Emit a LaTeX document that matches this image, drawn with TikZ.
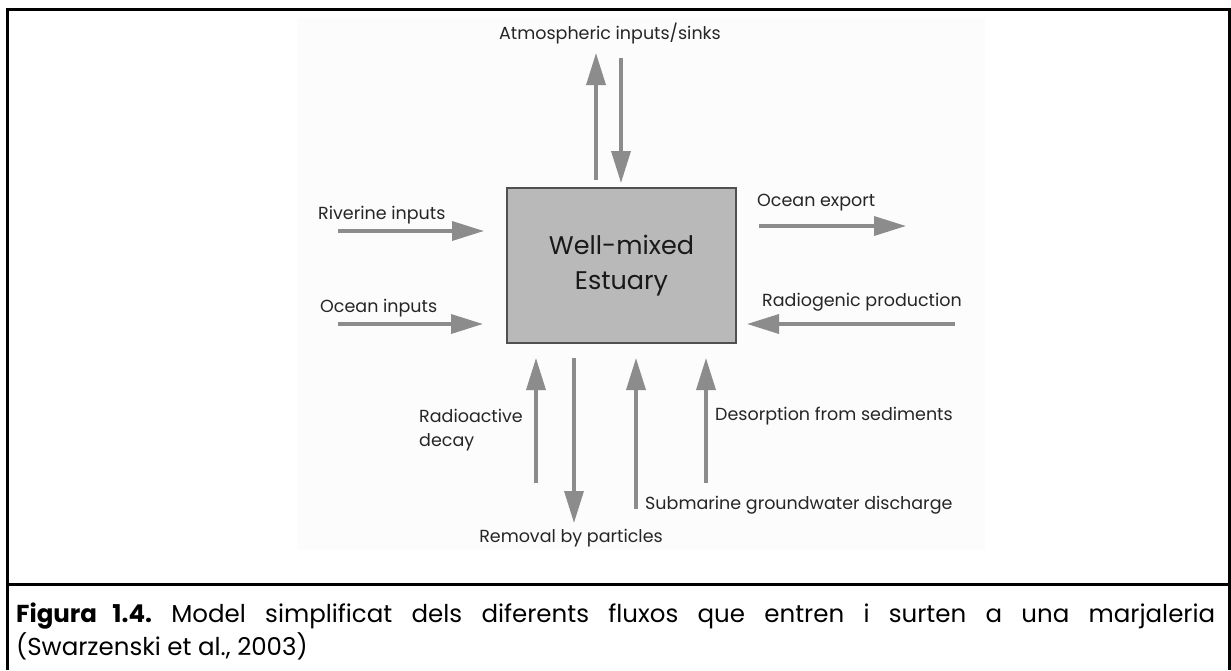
\documentclass[tikz,border=0pt]{standalone}
\usepackage{fontspec}
\setmainfont{Poppins}
\frenchspacing
\usetikzlibrary{arrows.meta,calc}
\definecolor{arrowgray}{HTML}{8C8C8C}
\definecolor{boxgray}{HTML}{B9B9B9}
\definecolor{boxedge}{HTML}{505050}
\definecolor{bgfill}{HTML}{FCFCFC}
\tikzset{
  flow/.style={draw=arrowgray, line width=3.5pt, -{Triangle[length=32pt,width=19pt]}},
  lbl/.style={inner sep=0pt, font=\fontsize{17.5}{24}\selectfont, text=black!85},
  estuarybox/.style={draw=boxedge, line width=1.5pt, fill=boxgray, minimum width=229pt, minimum height=155pt, align=center, font=\fontsize{25.5}{35}\selectfont, text=black!90},
  frameline/.style={line width=3pt, draw=black}
}
\begin{document}
\begin{tikzpicture}[x=1pt,y=-1pt]
\useasboundingbox (0,0) rectangle (1231,670);
\fill[bgfill] (297,18) rectangle (985,550);
\draw[frameline] (7,670) -- (7,9) -- (1229,9) -- (1229,670);
\draw[frameline] (7,584) -- (1229,584);

\node[estuarybox] (E) at (621.5,265.5) {Well-mixed\\Estuary};

% coordinates
\coordinate (atU0) at (596,180); \coordinate (atU1) at (596,53);
\coordinate (atD0) at (621,58);  \coordinate (atD1) at (621,183);
\coordinate (riv0) at (338,231); \coordinate (riv1) at (484,231);
\coordinate (oci0) at (338,324); \coordinate (oci1) at (483,324);
\coordinate (oce0) at (759,226); \coordinate (oce1) at (906,226);
\coordinate (rad0) at (955,324); \coordinate (rad1) at (747,324);
\coordinate (dec0) at (536,483); \coordinate (dec1) at (536,358);
\coordinate (rem0) at (574,358); \coordinate (rem1) at (574,523);
\coordinate (sgd0) at (636,509); \coordinate (sgd1) at (636,358);
\coordinate (des0) at (706,483); \coordinate (des1) at (706,358);

\draw[flow] (atU0) -- (atU1);
\draw[flow] (atD0) -- (atD1);
\draw[flow] (riv0) -- (riv1);
\draw[flow] (oci0) -- (oci1);
\draw[flow] (oce0) -- (oce1);
\draw[flow] (rad0) -- (rad1);
\draw[flow] (dec0) -- (dec1);
\draw[flow] (rem0) -- (rem1);
\draw[flow] (sgd0) -- (sgd1);
\draw[flow] (des0) -- (des1);

\node[lbl] (tatm) at (610,34) {Atmospheric inputs/sinks};
\node[lbl, anchor=west] (triv) at (318,215) {Riverine inputs};
\node[lbl, anchor=west] (toci) at (320,308) {Ocean inputs};
\node[lbl, anchor=west] (toce) at (757,203) {Ocean export};
\node[lbl, anchor=west] (trad) at (762,302) {Radiogenic production};
\node[lbl, anchor=west, align=left] (tdec) at (419,430) {Radioactive\\decay};
\node[lbl] (trem) at (571,538) {Removal by particles};
\node[lbl, anchor=west] (tsgd) at (645,505) {Submarine groundwater discharge};
\node[lbl, anchor=west] (tdes) at (715,416) {Desorption from sediments};

\node[anchor=north west, inner sep=0pt, text width=1199pt, align=justify,
      font=\fontsize{24.5}{33}\selectfont\frenchspacing] (cap) at (16,603)
  {\textbf{Figura 1.4.} Model simplificat dels diferents fluxos que entren i surten a una marjaleria\linebreak (Swarzenski et al., 2003)};
\end{tikzpicture}
\end{document}
